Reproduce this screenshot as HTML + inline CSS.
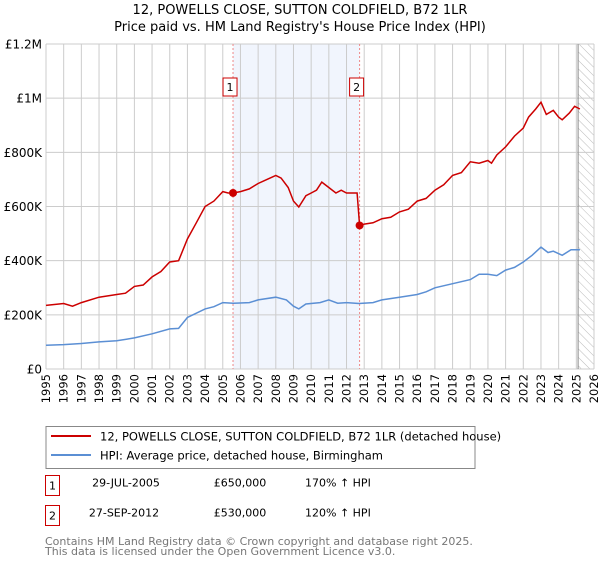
<!DOCTYPE html>
<html><head><meta charset="utf-8"><style>
body{margin:0;background:#fff;font-family:"DejaVu Sans","Liberation Sans",sans-serif;}
svg text{font-family:"DejaVu Sans","Liberation Sans",sans-serif;}
</style></head><body>
<svg id="c" width="600" height="560" xmlns="http://www.w3.org/2000/svg">
<defs><pattern id="hatch" width="6" height="6" patternUnits="userSpaceOnUse" patternTransform="rotate(-45)"><line x1="0" y1="0" x2="0" y2="6" stroke="#bbb" stroke-width="1"/></pattern></defs>
<text x="300" y="14" text-anchor="middle" font-size="13">12, POWELLS CLOSE, SUTTON COLDFIELD, B72 1LR</text>
<text x="300" y="31" text-anchor="middle" font-size="13">Price paid vs. HM Land Registry's House Price Index (HPI)</text>
<g id="plot"></g>
<rect x="46" y="426.5" width="429" height="42" fill="#fff" stroke="#888"/>
<line x1="51" y1="436" x2="91" y2="436" stroke="#cc0000" stroke-width="2"/>
<text x="100" y="440.5" font-size="11.5">12, POWELLS CLOSE, SUTTON COLDFIELD, B72 1LR (detached house)</text>
<line x1="51" y1="455" x2="91" y2="455" stroke="#5b8fd4" stroke-width="2"/>
<text x="100" y="459.5" font-size="11.5">HPI: Average price, detached house, Birmingham</text>
<g>
<rect x="45.5" y="475.5" width="14" height="20" fill="#fff" stroke="#cc0000"/>
<text x="52.5" y="489.5" text-anchor="middle" font-size="11">1</text>
<text x="126" y="486.5" text-anchor="middle" font-size="11">29-JUL-2005</text>
<text x="240" y="486.5" text-anchor="middle" font-size="11">£650,000</text>
<text x="305" y="486.5" font-size="11">170% ↑ HPI</text></g>
<g>
<rect x="45.5" y="505.5" width="14" height="20" fill="#fff" stroke="#cc0000"/>
<text x="52.5" y="519.5" text-anchor="middle" font-size="11">2</text>
<text x="124" y="516.5" text-anchor="middle" font-size="11">27-SEP-2012</text>
<text x="240" y="516.5" text-anchor="middle" font-size="11">£530,000</text>
<text x="305" y="516.5" font-size="11">120% ↑ HPI</text></g>
<text x="45" y="545" font-size="11" fill="#777">Contains HM Land Registry data © Crown copyright and database right 2025.</text>
<text x="45" y="555" font-size="11" fill="#777">This data is licensed under the Open Government Licence v3.0.</text>
</svg>
<script>
const yTicks=[0,200000,400000,600000,800000,1000000,1200000];
const yTickLabels=["£0","£200K","£400K","£600K","£800K","£1M","£1.2M"];
const years=[1995,1996,1997,1998,1999,2000,2001,2002,2003,2004,2005,2006,2007,2008,2009,2010,2011,2012,2013,2014,2015,2016,2017,2018,2019,2020,2021,2022,2023,2024,2025,2026];
const redT=[1995,1996,1996.5,1997,1998,1999,1999.5,2000,2000.5,2001,2001.5,2002,2002.5,2003,2003.5,2004,2004.5,2005,2005.3,2005.58,2006,2006.5,2007,2007.5,2008,2008.3,2008.7,2009,2009.3,2009.7,2010,2010.3,2010.6,2011,2011.4,2011.7,2012,2012.6,2012.74,2013,2013.5,2014,2014.5,2015,2015.5,2016,2016.5,2017,2017.5,2018,2018.5,2019,2019.5,2020,2020.2,2020.5,2021,2021.5,2022,2022.3,2022.7,2023,2023.3,2023.7,2024,2024.2,2024.6,2024.9,2025.2];
const redV=[235,242,232,245,265,275,280,305,310,340,360,395,400,480,540,600,620,655,650,650,655,665,685,700,715,705,670,620,598,640,650,660,690,670,650,660,650,650,530,535,540,555,560,580,590,620,630,660,680,715,725,765,760,770,760,790,820,860,890,930,960,985,940,955,930,920,945,970,960];
const blueT=[1995,1996,1997,1998,1999,2000,2001,2002,2002.5,2003,2004,2004.5,2005,2005.6,2006.5,2007,2008,2008.6,2009,2009.3,2009.7,2010.5,2011,2011.5,2012,2012.7,2013.5,2014,2015,2016,2016.5,2017,2018,2019,2019.5,2020,2020.5,2021,2021.5,2022,2022.5,2023,2023.4,2023.7,2024.2,2024.7,2025.2];
const blueV=[88,90,94,100,104,115,130,148,150,190,222,230,245,243,245,255,265,255,232,222,240,245,255,243,245,242,245,255,265,275,285,300,315,330,350,350,345,365,375,395,420,450,430,435,420,440,440];
const sales=[[2005.58,650000,"1"],[2012.74,530000,"2"]];
const X0=46,X1=594,Y0=369,Y1=44;
const xs=t=>X0+(t-1995)/(2026-1995)*(X1-X0);
const ys=v=>Y0-v/1200000*(Y0-Y1);
const NS="http://www.w3.org/2000/svg",g=document.getElementById('plot');
function mk(tag,a,name){const e=document.createElementNS(NS,tag);for(const k in a)e.setAttribute(k,a[k]);


g.appendChild(e);return e;}
mk('rect',{x:xs(2005.58),y:Y1,width:xs(2012.74)-xs(2005.58),height:Y0-Y1,fill:'#eef3fc',opacity:0.8},'sales-period-shade');
mk('rect',{x:xs(2025.1),y:Y1,width:X1-xs(2025.1),height:Y0-Y1,fill:'url(#hatch)'},'forecast-hatch');
years.forEach(y=>{mk('line',{x1:xs(y),x2:xs(y),y1:Y1,y2:Y0,stroke:'#ccc'},'x-gridline');
const t=mk('text',{x:0,y:0,'font-size':11.5,'text-anchor':'end',transform:`translate(${xs(y)+4},${Y0+5}) rotate(-90)`},'x-tick-label');t.textContent=y;});
yTicks.forEach((v,i)=>{mk('line',{x1:X0,x2:X1,y1:ys(v),y2:ys(v),stroke:'#ccc'},'y-gridline');
const t=mk('text',{x:X0-4,y:ys(v)+4.5,'font-size':12,'text-anchor':'end'},'y-tick-label');t.textContent=yTickLabels[i];});
mk('line',{x1:xs(2025.1),x2:xs(2025.1),y1:Y1,y2:Y0,stroke:'#888'},'data-end-line');
sales.forEach(s=>mk('line',{x1:xs(s[0]),x2:xs(s[0]),y1:Y1,y2:Y0,stroke:'#e88','stroke-dasharray':'2,2'},'sale-marker-line'));
const pts=(T,V)=>T.map((t,i)=>xs(t).toFixed(1)+','+ys(V[i]*1000).toFixed(1)).join(' ');
mk('polyline',{points:pts(blueT,blueV),fill:'none',stroke:'#5b8fd4','stroke-width':1.5},'hpi-line');
mk('polyline',{points:pts(redT,redV),fill:'none',stroke:'#cc0000','stroke-width':1.5},'property-price-line');
sales.forEach(s=>{mk('circle',{cx:xs(s[0]),cy:ys(s[1]),r:4,fill:'#cc0000'},'sale-point');
mk('rect',{x:xs(s[0])-10,y:78,width:14,height:18,fill:'#fff',stroke:'#cc0000'},'sale-label-box');
const t=mk('text',{x:xs(s[0])-3,y:91,'font-size':11,'text-anchor':'middle'},'sale-label');t.textContent=s[2];});
</script>
</body></html>
